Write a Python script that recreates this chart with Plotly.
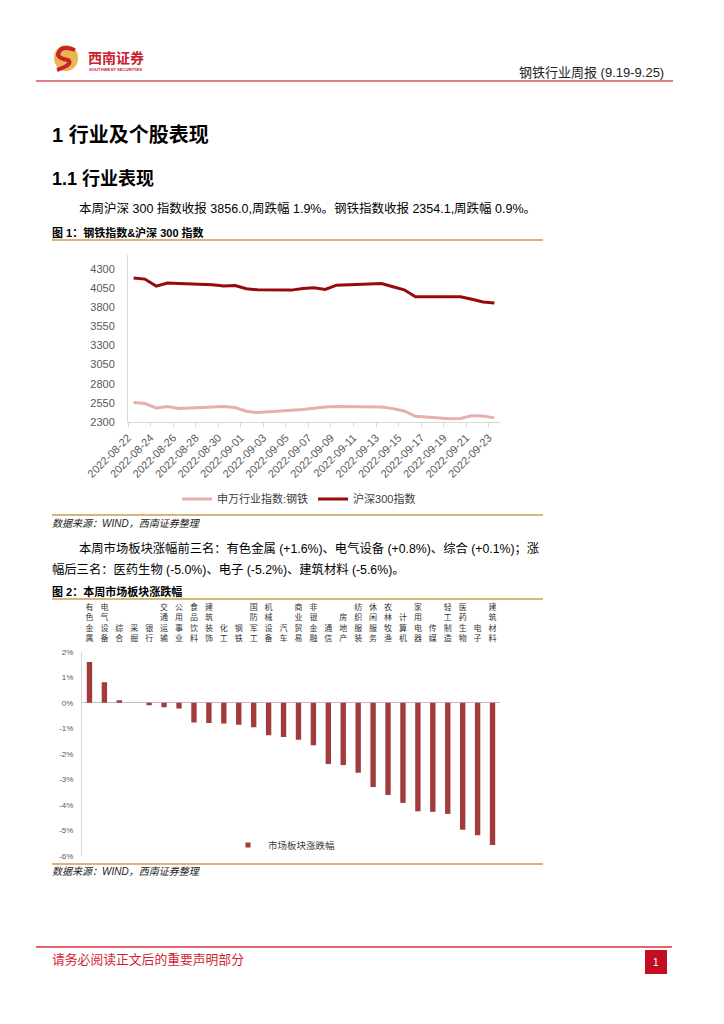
import plotly.graph_objects as go

PAGE_W, PAGE_H = 724, 1024
OFF = 8                      # default <body> margin of the html page
W, H = PAGE_W - OFF, PAGE_H - OFF

# ---------------- data ----------------
dates = ["2022-08-22", "2022-08-23", "2022-08-24", "2022-08-25", "2022-08-26",
         "2022-08-29", "2022-08-30", "2022-08-31", "2022-09-01", "2022-09-02",
         "2022-09-05", "2022-09-06", "2022-09-07", "2022-09-08", "2022-09-09",
         "2022-09-13", "2022-09-14", "2022-09-15", "2022-09-16", "2022-09-19",
         "2022-09-20", "2022-09-21", "2022-09-22", "2022-09-23"]
steel_index = [2554, 2541, 2484, 2502, 2478, 2493, 2503, 2489, 2440, 2423,
               2445, 2462, 2480, 2497, 2502, 2497, 2475, 2445, 2375, 2344,
               2346, 2383, 2379, 2354.1]
csi300 = [4182, 4168, 4076, 4116, 4111, 4094, 4078, 4085, 4041, 4028,
          4024, 4046, 4054, 4032, 4089, 4111, 4068, 4028, 3936, 3932,
          3937, 3904, 3869, 3856.0]
line_names = ["申万行业指数:钢铁", "沪深300指数"]
date_ticks = ["2022-08-22", "2022-08-24", "2022-08-26", "2022-08-28", "2022-08-30",
              "2022-09-01", "2022-09-03", "2022-09-05", "2022-09-07", "2022-09-09",
              "2022-09-11", "2022-09-13", "2022-09-15", "2022-09-17", "2022-09-19",
              "2022-09-21", "2022-09-23"]
line_yticks = [2300, 2550, 2800, 3050, 3300, 3550, 3800, 4050, 4300]

sectors = ["有色金属", "电气设备", "综合", "采掘", "银行", "交通运输", "公用事业",
           "食品饮料", "建筑装饰", "化工", "钢铁", "国防军工", "机械设备", "汽车",
           "商业贸易", "非银金融", "通信", "房地产", "纺织服装", "休闲服务",
           "农林牧渔", "计算机", "家用电器", "传媒", "轻工制造", "医药生物",
           "电子", "建筑材料"]
sector_change = [1.6, 0.8, 0.1, 0.0, -0.1, -0.18, -0.22, -0.77, -0.79, -0.81,
                 -0.86, -0.96, -1.27, -1.34, -1.45, -1.66, -2.40, -2.44, -2.74,
                 -3.30, -3.61, -3.92, -4.25, -4.27, -4.35, -4.97, -5.19, -5.57]
bar_name = "市场板块涨跌幅"
bar_yticks = [2, 1, 0, -1, -2, -3, -4, -5, -6]
bar_yticktext = ["2%", "1%", "0%", "-1%", "-2%", "-3%", "-4%", "-5%", "-6%"]

# ---------------- helpers (page pixels -> paper fractions) ----------------
def px(x):
    return (x - OFF) / W

def py(y):
    return 1 - (y - OFF) / H

FONT = "Liberation Sans, Noto Sans CJK SC, sans-serif"
BAR_COLOR = "#a23c3c"

fig = go.Figure()

fig.add_trace(go.Scatter(
    x=dates, y=steel_index, name=line_names[0], mode="lines",
    line=dict(color="#e8aeae", width=3),
    xperiod=86400000, xperiodalignment="middle",
    xaxis="x", yaxis="y", legend="legend"))
fig.add_trace(go.Scatter(
    x=dates, y=csi300, name=line_names[1], mode="lines",
    line=dict(color="#960a0a", width=3),
    xperiod=86400000, xperiodalignment="middle",
    xaxis="x", yaxis="y", legend="legend"))

fig.add_trace(go.Bar(
    x=sectors, y=sector_change, name=bar_name,
    marker=dict(color=BAR_COLOR, line=dict(width=0)),
    xaxis="x2", yaxis="y2", showlegend=False))
# legend entry for the bars (small square key, as in the source chart)
fig.add_trace(go.Scatter(
    x=[None], y=[None], name=bar_name, mode="markers",
    marker=dict(symbol="square", size=5, color=BAR_COLOR),
    xaxis="x2", yaxis="y2", legend="legend2"))

axis_grey = "#d9d9d9"
tick_grey = "#595959"

fig.update_layout(
    width=W, height=H, autosize=False,
    margin=dict(l=0, r=0, t=0, b=0, pad=0),
    paper_bgcolor="white", plot_bgcolor="white",
    font=dict(family=FONT, color="#000000"),
    showlegend=True,
    xaxis=dict(
        domain=[px(128), px(500)], anchor="y", type="date", automargin=False,
        range=["2022-08-22", "2022-09-24"],
        tickvals=date_ticks, tickformat="%Y-%m-%d", tickangle=-45,
        tickfont=dict(size=11, color=tick_grey),
        showline=True, linecolor=axis_grey, linewidth=1,
        ticks="outside", ticklen=4, tickcolor=axis_grey,
        showgrid=False, zeroline=False, fixedrange=True),
    yaxis=dict(
        domain=[py(422), py(255)], anchor="x", automargin=False,
        range=[2300, 4483], tickvals=line_yticks,
        tickfont=dict(size=11, color=tick_grey),
        showline=True, linecolor=axis_grey, linewidth=1,
        ticks="outside", ticklen=0, ticklabelstandoff=10,
        showgrid=False, zeroline=False),
    xaxis2=dict(
        domain=[px(82), px(500)], anchor="y2", side="top", automargin=False,
        range=[-0.5, len(sectors) - 0.5],
        tickvals=sectors, ticktext=["<br>".join(s) for s in sectors],
        tickangle=0, tickfont=dict(size=8, color="#333333"),
        showline=False, ticks="", ticklabelstandoff=8,
        showgrid=False, zeroline=False),
    yaxis2=dict(
        domain=[py(856), py(651.7)], anchor="x2", automargin=False,
        range=[-6, 2], tickvals=bar_yticks, ticktext=bar_yticktext,
        tickfont=dict(size=8, color=tick_grey),
        showline=True, linecolor=axis_grey, linewidth=1,
        ticks="", ticklabelstandoff=6,
        showgrid=False, zeroline=True, zerolinecolor="#bfbfbf", zerolinewidth=1),
    bargap=0.64,
    legend=dict(orientation="h", x=px(299), y=py(499), xanchor="center", yanchor="middle",
                font=dict(size=11, color="#404040"), bgcolor="rgba(0,0,0,0)",
                itemwidth=30, tracegroupgap=0),
    legend2=dict(orientation="h", x=px(228), y=py(845), xanchor="left", yanchor="middle",
                 font=dict(size=9.5, color="#404040"), bgcolor="rgba(0,0,0,0)",
                 itemwidth=30),
)

shapes = []
def hline(y, x0, x1, color, width):
    shapes.append(dict(type="line", xref="paper", yref="paper",
                       x0=px(x0), x1=px(x1), y0=py(y), y1=py(y),
                       line=dict(color=color, width=width)))

hline(81, 36, 673, "#e07d86", 2)
gold = "#dcb479"
hline(240, 52, 543, gold, 2)
hline(515, 52, 543, gold, 2)
hline(599, 52, 543, gold, 2)
hline(864, 52, 543, gold, 2)
hline(947, 36, 672, "#d9323f", 1.5)

# page number box
shapes.append(dict(type="rect", xref="paper", yref="paper",
                   x0=px(645), x1=px(667), y0=py(974), y1=py(950),
                   fillcolor="#c30d23", line=dict(width=0)))

# logo
shapes.append(dict(type="circle", xref="paper", yref="paper",
                   x0=px(54), x1=px(78), y0=py(71), y1=py(45),
                   fillcolor="#e9b650", line=dict(width=0)))
def P(x, y):
    return f"{px(x):.5f},{py(y):.5f}"
swirl = (f"M {P(75,50)} Q {P(60,44)} {P(58,55)} Q {P(60,59)} {P(68,60)} "
         f"Q {P(74,64)} {P(57,70)}")
shapes.append(dict(type="path", xref="paper", yref="paper", path=swirl,
                   line=dict(color="#c8202c", width=4)))
fig.update_layout(shapes=shapes)

ann = []
def text(x, y, s, size, color="#000000", anchor="left", bold=False, italic=False):
    t = s
    if bold:
        t = f"<b>{t}</b>"
    if italic:
        t = f"<i>{t}</i>"
    ann.append(dict(xref="paper", yref="paper", x=px(x), y=py(y), text=t,
                    showarrow=False, xanchor=anchor, yanchor="middle",
                    font=dict(size=size, color=color, family=FONT)))

text(86, 58, "西南证券", 14, "#c8202c", bold=True)
text(87, 69, "SOUTHWEST SECURITIES", 4.2, "#c8202c", bold=True)
text(666, 72, "钢铁行业周报 (9.19-9.25)", 13, "#222222", anchor="right")

text(50, 135, "1 行业及个股表现", 20, bold=True)
text(50, 179, "1.1 行业表现", 18, bold=True)
text(77, 209, "本周沪深 300 指数收报 3856.0,周跌幅 1.9%。钢铁指数收报 2354.1,周跌幅 0.9%。", 12.5)
text(50, 232, "图 1：钢铁指数&沪深 300 指数", 11, bold=True)
text(50, 523, "数据来源：WIND，西南证券整理", 10, "#222222", italic=True)
text(77, 548, "本周市场板块涨幅前三名：有色金属 (+1.6%)、电气设备 (+0.8%)、综合 (+0.1%)；涨", 12.3)
text(50, 569, "幅后三名：医药生物 (-5.0%)、电子 (-5.2%)、建筑材料 (-5.6%)。", 12.3)
text(50, 591, "图 2：本周市场板块涨跌幅", 11, bold=True)
text(50, 871, "数据来源：WIND，西南证券整理", 10, "#222222", italic=True)
text(50, 959, "请务必阅读正文后的重要声明部分", 12.8, "#d11f2e")
text(656, 962, "1", 10, "#ffffff", anchor="center")

fig.update_layout(annotations=ann)

fig.write_html("out.html")
